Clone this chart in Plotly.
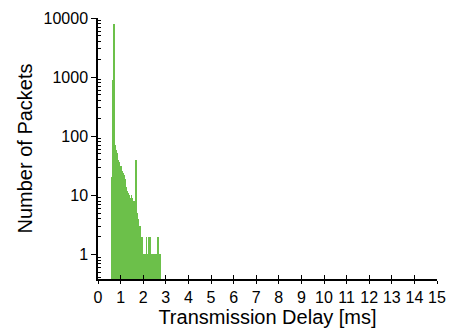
import plotly.graph_objects as go

# Histogram bin centres (ms) and packet counts
delay_ms = [0.61, 0.63, 0.65, 0.67, 0.69, 0.71, 0.73, 0.75, 0.77, 0.79,
            0.81, 0.83, 0.85, 0.87, 0.89, 0.91, 0.93, 0.95, 0.97, 0.99,
            1.01, 1.03, 1.05, 1.07, 1.09, 1.11, 1.13, 1.15, 1.17, 1.19,
            1.21, 1.23, 1.25, 1.27, 1.29, 1.31, 1.33, 1.35, 1.37, 1.39,
            1.41, 1.43, 1.45, 1.47, 1.49, 1.51, 1.53, 1.55, 1.57, 1.59,
            1.61, 1.63, 1.65, 1.67, 1.69, 1.71, 1.73, 1.75, 1.77, 1.79,
            1.81, 1.83, 1.85, 1.87, 1.89, 1.91, 1.93, 1.95, 1.97, 1.99,
            2.01, 2.03, 2.05, 2.07, 2.09, 2.11, 2.13, 2.15, 2.17, 2.19,
            2.21, 2.23, 2.25, 2.27, 2.29, 2.31, 2.33, 2.35, 2.37, 2.39,
            2.41, 2.43, 2.45, 2.47, 2.49, 2.51, 2.53, 2.55, 2.57, 2.59,
            2.61, 2.63, 2.65, 2.67, 2.69, 2.71, 2.73, 2.75, 2.77]
packets = [20, 50, 150, 900, 3500, 8000, 1200, 70, 62, 55,
           58, 50, 46, 52, 40, 38, 33, 36, 30, 28,
           31, 25, 27, 22, 26, 20, 24, 19, 22, 16,
           19, 14, 13, 12, 10, 12, 9, 11, 8, 10,
           7, 9, 8, 10, 7, 9, 6, 8, 6, 8,
           5, 6, 4, 5, 40, 4, 5, 3, 4, 2,
           3, 2, 3, 2, 1, 2, 1, 1, 2, 1,
           0, 1, 1, 1, 0, 1, 1, 2, 1, 1,
           0, 1, 2, 1, 2, 1, 2, 1, 1, 0,
           1, 1, 0, 1, 1, 1, 0, 1, 1, 0,
           1, 2, 1, 2, 0, 1, 1, 0, 1]
bin_width = 0.02

x_ticks = list(range(0, 16))
y_ticks = [1, 10, 100, 1000, 10000]
y_tick_labels = ["1", "10", "100", "1000", "10000"]
y_minor_ticks = [m * 10 ** k for k in range(-1, 4) for m in range(2, 10)]

xs = [x for x, c in zip(delay_ms, packets) if c > 0]
ys = [c for c in packets if c > 0]

fig = go.Figure()
fig.add_trace(go.Bar(x=xs, y=ys, width=bin_width,
                     marker=dict(color="#6cc04a", line=dict(width=0)),
                     showlegend=False))
fig.add_trace(go.Scatter(x=[None], y=[None], xaxis="x2", showlegend=False))

font_family = "Liberation Sans, Arial, sans-serif"
fig.update_layout(
    width=456, height=334,
    margin=dict(l=98, r=10, t=17, b=52),
    paper_bgcolor="white", plot_bgcolor="white",
    font=dict(family=font_family, color="black"),
    bargap=0,
    xaxis=dict(range=[0, 15], tickvals=x_ticks, ticks="outside", ticklen=3,
               tickwidth=1.2, tickcolor="black", showline=True, linecolor="black",
               linewidth=1.5, showgrid=False, zeroline=False,
               tickfont=dict(size=16), title=dict(text="Transmission Delay [ms]",
               font=dict(size=20), standoff=4)),
    xaxis2=dict(range=[0, 15], overlaying="x", anchor="y", side="bottom",
                tickvals=x_ticks, ticks="inside", ticklen=4, tickwidth=1.2,
                tickcolor="black", showticklabels=False, showgrid=False,
                zeroline=False, showline=False),
    yaxis=dict(type="log", range=[-0.417, 4], tickvals=y_ticks,
               ticktext=y_tick_labels, ticks="outside", ticklen=5, tickwidth=1.2,
               tickcolor="black", showline=True, linecolor="black", linewidth=1.5,
               showgrid=False, zeroline=False, tickfont=dict(size=16),
               minor=dict(tickvals=y_minor_ticks, ticks="inside", ticklen=3,
                          tickcolor="black", tickwidth=1, showgrid=False),
               title=dict(text="Number of Packets", font=dict(size=20), standoff=6)),
)

fig.write_html("out.html")
